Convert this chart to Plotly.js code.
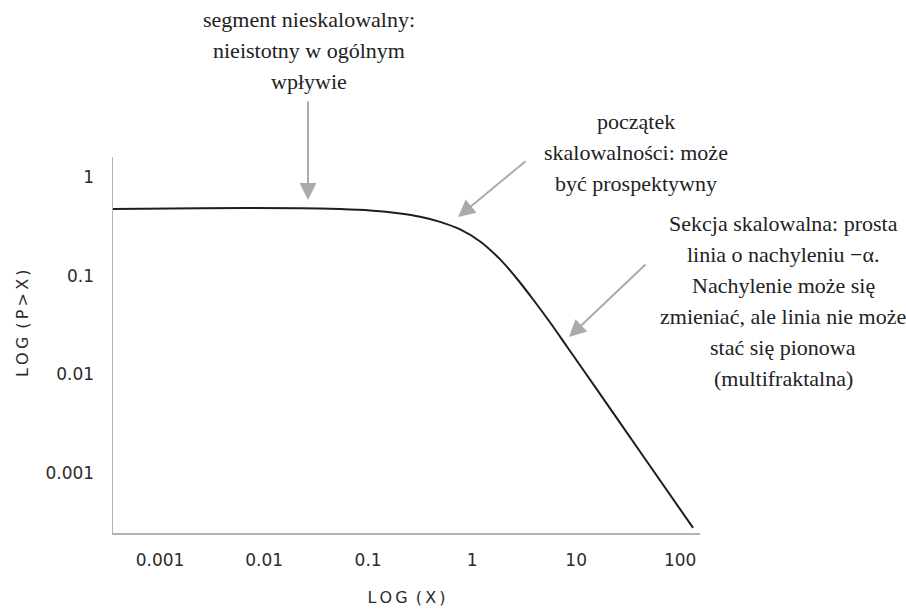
<!DOCTYPE html>
<html>
<head>
<meta charset="utf-8">
<script src="https://cdn.plot.ly/plotly-3.0.1.min.js"></script>
<style>
  html, body { margin: 0; padding: 0; background: #ffffff; }
  #chart { width: 906px; height: 613px; }
</style>
</head>
<body>
<div id="chart"></div>
<script>
// Survival curve P(>X) on log-log axes: flat non-scalable head, knee, power-law tail
const xValues = [0.000353, 0.00243, 0.0222, 0.0538, 0.1045, 0.203, 0.316, 0.492, 0.767, 1.194, 1.858, 2.71, 3.86, 5.62, 8.18, 17.0, 41.2, 133];
const yValues = [0.474, 0.485, 0.485, 0.474, 0.458, 0.427, 0.396, 0.352, 0.295, 0.223, 0.1466, 0.0928, 0.0575, 0.0336, 0.0191, 0.00632, 0.001647, 0.000278];

const xTickValues = [0.001, 0.01, 0.1, 1, 10, 100];
const xTickText = ['0.001', '0.01', '0.1', '1', '10', '100'];
const yTickValues = [0.001, 0.01, 0.1, 1];
const yTickText = ['0.001', '0.01', '0.1', '1'];

const xTitle = 'L\u2009O\u2009G\u2002(\u2009X\u2009)';
const yTitle = 'L\u2009O\u2009G\u2002(\u2009P\u2009>\u2009X\u2009)';

const noteFlat = ['segment nieskalowalny:', 'nieistotny w ogólnym', 'wpływie'];
const noteKnee = ['początek', 'skalowalności: może', 'być prospektywny'];
const noteTail = ['Sekcja skalowalna: prosta', 'linia o nachyleniu \u2212\u03b1.', 'Nachylenie może się',
                  'zmieniać, ale linia nie może', 'stać się pionowa', '(multifraktalna)'];

// plot box in pixels
const W = 906, H = 613;
const M = { l: 113, r: 206, t: 157, b: 80 };
const PW = W - M.l - M.r, PH = H - M.t - M.b;
const px = x => (x - M.l) / PW;
const py = y => (H - M.b - y) / PH;

const serif = { family: 'Liberation Serif', size: 22, color: '#222222' };
const sans = 'DejaVu Sans';
const labelColor = '#2b2b2b';

const annotations = [];
function textBlock(lines, cx, y0, step) {
  lines.forEach((t, i) => {
    annotations.push({
      xref: 'paper', yref: 'paper', x: px(cx), y: py(y0 + i * step),
      xanchor: 'center', yanchor: 'middle', showarrow: false,
      text: t, font: Object.assign({}, serif)
    });
  });
}
function arrow(hx, hy, tx, ty) {
  annotations.push({
    xref: 'paper', yref: 'paper', x: px(hx), y: py(hy),
    ax: tx - hx, ay: ty - hy, text: '', showarrow: true,
    arrowhead: 2, arrowsize: 1.7, arrowwidth: 2, arrowcolor: '#aaaaaa', standoff: 0
  });
}

textBlock(noteFlat, 309, 19, 31);
arrow(308, 200, 308, 100);
textBlock(noteKnee, 636, 121, 31);
arrow(458, 217, 527, 160);
textBlock(noteTail, 783, 223, 31);
arrow(569, 337, 647, 263);

// rotated y-axis label
annotations.push({
  xref: 'paper', yref: 'paper', x: px(22), y: py(323),
  xanchor: 'center', yanchor: 'middle', showarrow: false, textangle: -90,
  text: yTitle, font: { family: sans, size: 16, color: labelColor }
});

const trace = {
  x: xValues, y: yValues, type: 'scatter', mode: 'lines',
  line: { color: '#1e1e1e', width: 2, shape: 'spline', smoothing: 0.8 },
  hoverinfo: 'skip'
};

const axisCommon = {
  type: 'log', showgrid: false, zeroline: false, showline: true,
  linecolor: '#b3b3b3', linewidth: 1.5, ticks: '', mirror: false,
  tickfont: { family: sans, size: 17, color: labelColor }
};

const layout = {
  width: W, height: H,
  margin: M,
  font: { family: sans, color: labelColor },
  paper_bgcolor: '#ffffff', plot_bgcolor: '#ffffff',
  showlegend: false,
  xaxis: Object.assign({}, axisCommon, {
    range: [Math.log10(0.000353), Math.log10(155)],
    tickvals: xTickValues, ticktext: xTickText, ticklabelstandoff: 11,
    title: { text: xTitle, standoff: 23, font: { family: sans, size: 16, color: labelColor } }
  }),
  yaxis: Object.assign({}, axisCommon, {
    range: [Math.log10(0.000247), Math.log10(1.6)],
    tickvals: yTickValues, ticktext: yTickText, ticklabelstandoff: 14
  }),
  annotations: annotations
};

Plotly.newPlot('chart', [trace], layout, { staticPlot: true, displayModeBar: false });
</script>
</body>
</html>
